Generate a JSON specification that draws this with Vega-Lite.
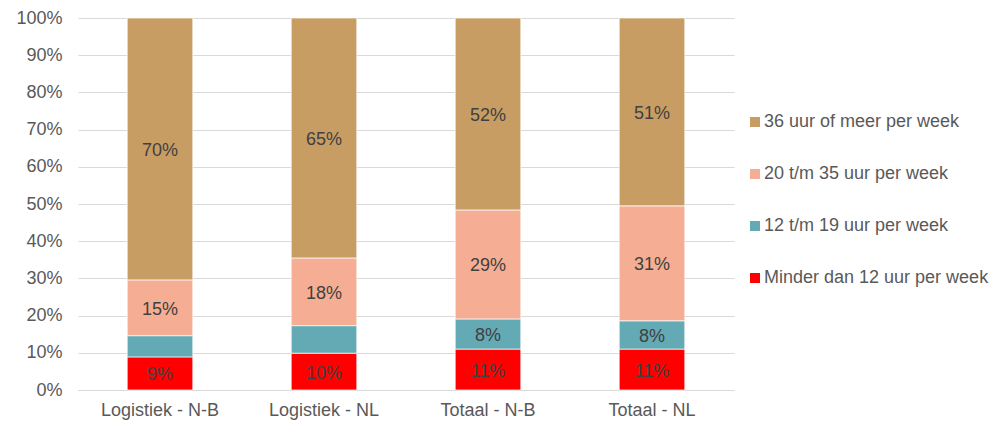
{
  "$schema": "https://vega.github.io/schema/vega-lite/v6.json",
  "width": 656,
  "height": 372,
  "autosize": {"type": "none"},
  "padding": {"left": 78, "top": 18, "right": 256, "bottom": 32},
  "background": "white",
  "config": {
    "font": "Liberation Sans",
    "view": {"stroke": null},
    "axisY": {"ticks": false, "domain": false, "gridColor": "#D9D9D9", "gridWidth": 1, "labelPadding": 16, "labelFontSize": 18, "labelColor": "#595959", "labelFont": "Liberation Sans", "labelOverlap": false}
  },
  "data": {
    "values": [
      {"groep": "Logistiek - N-B", "cat": "Minder dan 12 uur per week", "ord": 1, "pct": 8.9, "label": "9%"},
      {"groep": "Logistiek - N-B", "cat": "12 t/m 19 uur per week", "ord": 2, "pct": 5.7, "label": ""},
      {"groep": "Logistiek - N-B", "cat": "20 t/m 35 uur per week", "ord": 3, "pct": 15.0, "label": "15%"},
      {"groep": "Logistiek - N-B", "cat": "36 uur of meer per week", "ord": 4, "pct": 70.4, "label": "70%"},
      {"groep": "Logistiek - NL", "cat": "Minder dan 12 uur per week", "ord": 1, "pct": 9.9, "label": "10%"},
      {"groep": "Logistiek - NL", "cat": "12 t/m 19 uur per week", "ord": 2, "pct": 7.4, "label": ""},
      {"groep": "Logistiek - NL", "cat": "20 t/m 35 uur per week", "ord": 3, "pct": 18.2, "label": "18%"},
      {"groep": "Logistiek - NL", "cat": "36 uur of meer per week", "ord": 4, "pct": 64.5, "label": "65%"},
      {"groep": "Totaal - N-B", "cat": "Minder dan 12 uur per week", "ord": 1, "pct": 11.0, "label": "11%"},
      {"groep": "Totaal - N-B", "cat": "12 t/m 19 uur per week", "ord": 2, "pct": 8.1, "label": "8%"},
      {"groep": "Totaal - N-B", "cat": "20 t/m 35 uur per week", "ord": 3, "pct": 29.3, "label": "29%"},
      {"groep": "Totaal - N-B", "cat": "36 uur of meer per week", "ord": 4, "pct": 51.6, "label": "52%"},
      {"groep": "Totaal - NL", "cat": "Minder dan 12 uur per week", "ord": 1, "pct": 11.0, "label": "11%"},
      {"groep": "Totaal - NL", "cat": "12 t/m 19 uur per week", "ord": 2, "pct": 7.6, "label": "8%"},
      {"groep": "Totaal - NL", "cat": "20 t/m 35 uur per week", "ord": 3, "pct": 30.9, "label": "31%"},
      {"groep": "Totaal - NL", "cat": "36 uur of meer per week", "ord": 4, "pct": 50.5, "label": "51%"}
    ]
  },
  "transform": [
    {"stack": "pct", "groupby": ["groep"], "sort": [{"field": "ord", "order": "ascending"}], "as": ["y0", "y1"]},
    {"calculate": "(datum.y0 + datum.y1) / 2", "as": "ymid"}
  ],
  "encoding": {
    "x": {
      "field": "groep",
      "type": "nominal",
      "sort": null,
      "title": null,
      "scale": {"paddingInner": 0.6, "paddingOuter": 0.3},
      "axis": {"labelAngle": 0, "ticks": false, "domain": true, "domainColor": "#D9D9D9", "labelPadding": 11, "labelFontSize": 18, "labelColor": "#595959", "labelFont": "Liberation Sans", "labelLimit": 300}
    }
  },
  "layer": [
    {
      "mark": {"type": "bar", "stroke": "white", "strokeWidth": 0.7},
      "encoding": {
        "y": {
          "field": "y0",
          "type": "quantitative",
          "title": null,
          "scale": {"domain": [0, 100], "nice": false},
          "axis": {"values": [0, 10, 20, 30, 40, 50, 60, 70, 80, 90, 100], "tickCount": 11, "labelExpr": "datum.value + '%'"}
        },
        "y2": {"field": "y1"},
        "color": {
          "field": "cat",
          "type": "nominal",
          "scale": {
            "domain": ["36 uur of meer per week", "20 t/m 35 uur per week", "12 t/m 19 uur per week", "Minder dan 12 uur per week"],
            "range": ["#C89D64", "#F5AE93", "#63AAB5", "#FF0000"]
          },
          "legend": {
            "orient": "none",
            "legendX": 668,
            "legendY": 95,
            "title": null,
            "symbolType": "square",
            "symbolSize": 100,
            "symbolStrokeWidth": 0,
            "labelFontSize": 18,
            "labelColor": "#595959",
            "labelFont": "Liberation Sans",
            "labelLimit": 400,
            "rowPadding": 34,
            "labelOffset": 0
          }
        }
      }
    },
    {
      "mark": {"type": "text", "fontSize": 18, "color": "#404040", "baseline": "middle", "dy": 2, "font": "Liberation Sans"},
      "encoding": {
        "y": {"field": "ymid", "type": "quantitative", "axis": {"values": [0, 10, 20, 30, 40, 50, 60, 70, 80, 90, 100], "tickCount": 11, "labelExpr": "datum.value + '%'"}},
        "text": {"field": "label"}
      }
    }
  ]
}
